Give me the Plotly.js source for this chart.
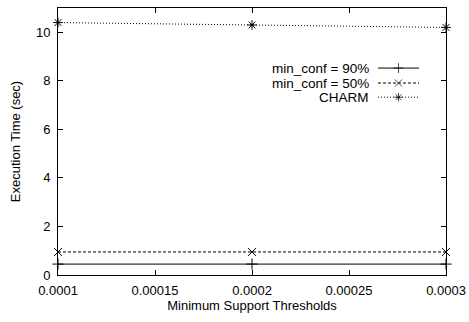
<!DOCTYPE html>
<html>
<head>
<meta charset="utf-8">
<script src="https://cdn.plot.ly/plotly-3.0.1.min.js"></script>
<style>html,body{margin:0;padding:0;background:#fff}#chart{width:469px;height:322px}</style>
</head>
<body>
<div id="chart"></div>
<script>
// Data
var supportThresholds = [0.0001, 0.0002, 0.0003];
var conf90 = [0.45, 0.45, 0.45];
var conf50 = [0.95, 0.95, 0.95];
var charm = [10.4, 10.3, 10.2];
var seriesNames = ["min_conf = 90%", "min_conf = 50%", "CHARM"];
var xTickVals = [0.0001, 0.00015, 0.0002, 0.00025, 0.0003];
var xTickText = ["0.0001", "0.00015", "0.0002", "0.00025", "0.0003"];
var yTickVals = [0, 2, 4, 6, 8, 10];

var styles = [
  {dash: "solid", symbol: "cross-thin-open"},
  {dash: "3px,2px", symbol: "x-thin-open"},
  {dash: "1px,2px", symbol: "asterisk-open"}
];
var seriesValues = [conf90, conf50, charm];

var traces = [];
seriesValues.forEach(function (vals, i) {
  traces.push({
    x: supportThresholds, y: vals, name: seriesNames[i], type: "scatter", mode: "lines+markers",
    line: {color: "#000", width: 1, dash: styles[i].dash},
    marker: {symbol: styles[i].symbol, size: 8, color: "#000", line: {color: "#000", width: 1}},
    cliponaxis: false, showlegend: false
  });
});

// Legend key samples (gnuplot style: label left, sample right), drawn on a helper axis
var keyRows = [0.775, 0.719, 0.666];
var annotations = [];
seriesNames.forEach(function (n, i) {
  traces.push({
    x: [0, 0.5, 1], y: [keyRows[i], keyRows[i], keyRows[i]], xaxis: "x2", yaxis: "y2",
    type: "scatter", mode: "lines+markers", hoverinfo: "skip", showlegend: false,
    line: {color: "#000", width: 1, dash: styles[i].dash},
    marker: {symbol: styles[i].symbol, size: [0, 7, 0], color: "#000", line: {color: "#000", width: 1}},
    cliponaxis: false
  });
  annotations.push({
    xref: "paper", yref: "paper", x: 0.806, y: keyRows[i], xanchor: "right", yanchor: "middle",
    text: n, showarrow: false, font: {size: 13.5, color: "#000"}
  });
});

var layout = {
  width: 469, height: 322,
  margin: {l: 58, r: 23, t: 8, b: 47},
  paper_bgcolor: "#fff", plot_bgcolor: "rgba(0,0,0,0)",
  font: {family: "Liberation Sans, Arial, sans-serif", size: 13, color: "#000"},
  showlegend: false,
  xaxis: {
    range: [0.0001, 0.0003], tickvals: xTickVals, ticktext: xTickText,
    ticks: "inside", ticklen: 5, tickcolor: "#000", tickwidth: 1,
    showline: true, linecolor: "#000", linewidth: 1, mirror: "ticks",
    showgrid: false, zeroline: false, ticklabelstandoff: 3,
    title: {text: "Minimum Support Thresholds", font: {size: 13}, standoff: 4}
  },
  yaxis: {
    range: [0, 11], tickvals: yTickVals,
    ticks: "inside", ticklen: 5, tickcolor: "#000", tickwidth: 1,
    showline: true, linecolor: "#000", linewidth: 1, mirror: "ticks",
    showgrid: false, zeroline: false, ticklabelstandoff: 4,
    title: {text: "Execution Time (sec)", font: {size: 13}, standoff: 12}
  },
  xaxis2: {domain: [0.8247, 0.9304], range: [0, 1], anchor: "y2", visible: false, fixedrange: true},
  yaxis2: {domain: [0, 1], range: [0, 1], anchor: "x2", visible: false, fixedrange: true},
  annotations: annotations
};

Plotly.newPlot("chart", traces, layout, {displayModeBar: false, staticPlot: true});
</script>
</body>
</html>
